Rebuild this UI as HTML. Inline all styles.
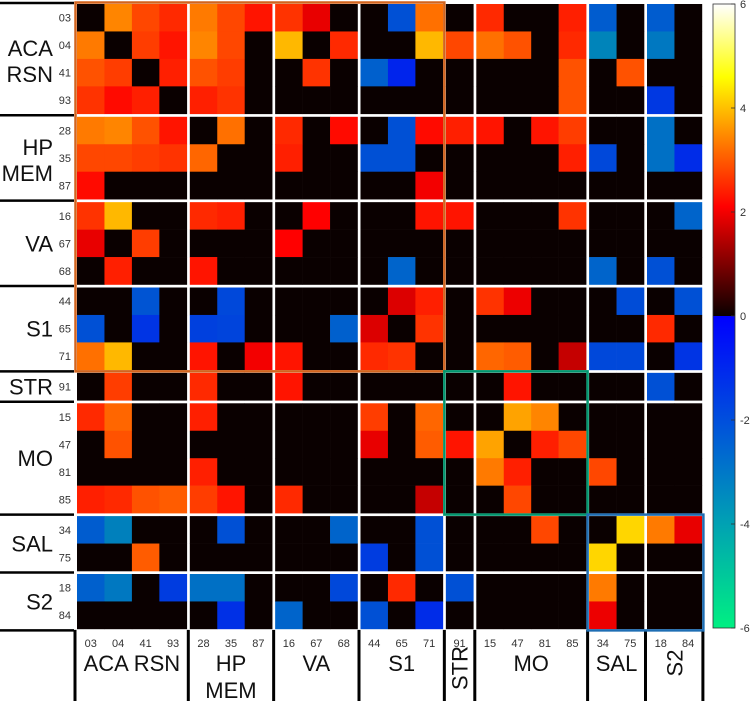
<!DOCTYPE html>
<html><head><meta charset="utf-8">
<style>
html,body{margin:0;padding:0;background:#fff;}
svg{display:block;font-family:"Liberation Sans",sans-serif;}
</style></head>
<body>
<svg id="chart" width="750" height="701" viewBox="0 0 750 701" xmlns="http://www.w3.org/2000/svg">
<defs>
<linearGradient id="cbg" x1="0" y1="0" x2="0" y2="1">
<stop offset="0" stop-color="#ffffff"/>
<stop offset="0.1167" stop-color="#ffff00"/>
<stop offset="0.2" stop-color="#ff9600"/>
<stop offset="0.325" stop-color="#ff0000"/>
<stop offset="0.4999" stop-color="#0a0000"/>
<stop offset="0.5" stop-color="#0000ff"/>
<stop offset="0.67" stop-color="#0050dc"/>
<stop offset="0.83" stop-color="#00a0b4"/>
<stop offset="1" stop-color="#00f082"/>
</linearGradient>
</defs>
<g id="cells"></g>
<g id="lines"></g>
<g id="labels"></g>
<g id="cbar"></g>
</svg>
<script>
const rowLabels = ["03","04","41","93","28","35","87","16","67","68","44","65","71","91","15","47","81","85","34","75","18","84"];
const groupNames = ["ACA RSN","HP MEM","VA","S1","STR","MO","SAL","S2"];
const groupStarts = [0,4,7,10,13,14,18,20,22];
const colorTicks = [6,4,2,0,-2,-4,-6];
const m0  = [0,3.4,2.8,2.5,3.3,2.8,2.3,2.6,1.9,0,0,-2,3.2,0,2.5,0,0,2.4,-2.3,0,-2.3,0];
const m1  = [3.3,0,2.7,2.3,3.4,2.8,0,3.9,0,2.5,0,0,3.9,2.8,3.2,2.9,0,2.5,-3.3,0,-3,0];
const m2  = [2.9,2.7,0,2.4,2.9,2.7,0,0,2.6,0,-2.4,-0.9,0,0,0,0,0,2.9,0,2.9,0,0];
const m3  = [2.6,2.2,2.4,0,2.4,2.6,0,0,0,0,0,0,0,0,0,0,0,2.9,0,0,-1.4,0];
const m4  = [3.3,3.4,2.9,2.3,0,3.2,0,2.5,0,2.2,0,-2,2.2,2.4,2.3,0,2.3,2.7,0,0,-2.8,0];
const m5  = [2.8,2.8,2.7,2.6,3.1,0,0,2.4,0,0,-2,-2,0,0,0,0,0,2.4,-1.8,0,-2.8,-1.1];
const m6  = [2.2,0,0,0,0,0,0,0,0,0,0,0,2.0,0,0,0,0,0,0,0,0,0];
const m7  = [2.6,3.9,0,0,2.5,2.4,0,0,2.1,0,0,0,2.3,2.3,0,0,0,2.6,0,0,0,-2.5];
const m8  = [1.9,0,2.7,0,0,0,0,2.1,0,0,0,0,0,0,0,0,0,0,0,0,0,0];
const m9  = [0,2.4,0,0,2.3,0,0,0,0,0,0,-2.5,0,0,0,0,0,0,-2.5,0,-2,0];
const m10 = [0,0,-2.1,0,0,-1.8,0,0,0,0,0,1.8,2.4,0,2.6,1.95,0,0,0,-1.9,0,-2];
const m11 = [-2,0,-1.3,0,-1.6,-1.7,0,0,0,-2.4,1.8,0,2.6,0,0,0,0,0,0,0,2.5,0];
const m12 = [3.2,3.9,0,0,2.3,0,2.0,2.3,0,0,2.5,2.6,0,0,3.1,3.0,0,1.6,-1.8,-1.8,0,-1.3];
const m13 = [0,2.7,0,0,2.5,0,0,2.3,0,0,0,0,0,0,0,2.3,0,0,0,0,-2,0];
const m14 = [2.5,3.1,0,0,2.4,0,0,0,0,0,2.7,0,3.1,0,0,3.7,3.4,0,0,0,0,0];
const m15 = [0,2.9,0,0,0,0,0,0,0,0,1.9,0,3.0,2.3,3.7,0,2.4,2.8,0,0,0,0];
const m16 = [0,0,0,0,2.4,0,0,0,0,0,0,0,0,0,3.3,2.4,0,0,2.8,0,0,0];
const m17 = [2.4,2.5,2.9,3.0,2.7,2.3,0,2.5,0,0,0,0,1.6,0,0,2.8,0,0,0,0,0,0];
const m18 = [-2.3,-3.2,0,0,0,-2,0,0,0,-2.5,0,0,-2,0,0,0,2.8,0,0,4.2,3.3,1.9];
const m19 = [0,0,3.0,0,0,0,0,0,0,0,-1.5,0,-2,0,0,0,0,0,4.2,0,0,0];
const m20 = [-2.4,-3,0,-1.5,-2.8,-2.8,0,0,0,-1.8,0,2.5,0,-2,0,0,0,0,3.3,0,0,0];
const m21 = [0,0,0,0,0,-1.2,0,-2.5,0,0,-2,0,-1.1,0,0,0,0,0,1.95,0,0,0];
const matrix = [m0,m1,m2,m3,m4,m5,m6,m7,m8,m9,m10,m11,m12,m13,m14,m15,m16,m17,m18,m19,m20,m21];

const NS="http://www.w3.org/2000/svg";
const X0=77, Y0=4, C=27.45, S=3, N=rowLabels.length;
function grp(i){let g=0;for(let k=1;k<groupStarts.length;k++){if(i>=groupStarts[k])g=k;}return g;}
function xPos(i){return X0+i*C+grp(i)*S;}
function yPos(i){return Y0+i*C+grp(i)*S;}
const XEND=xPos(N-1)+C, YEND=yPos(N-1)+C;
function lerp(a,b,t){return a+(b-a)*t;}
function color(v){
  let r,g,b;
  if(v>0){
    if(v<=2.1){const t=v/2.1;r=lerp(10,255,t);g=0;b=0;}
    else if(v<=4.6){const t=(v-2.1)/2.5;r=255;g=255*t;b=0;}
    else{const t=Math.min(1,(v-4.6)/1.4);r=255;g=255;b=255*t;}
  }else if(v<0){
    const t=Math.min(1,-v/6);r=0;g=240*t;b=lerp(255,130,t);
  }else{r=10;g=0;b=0;}
  return `rgb(${Math.round(r)},${Math.round(g)},${Math.round(b)})`;
}
function mk(tag,attrs,parent){const e=document.createElementNS(NS,tag);for(const k in attrs)e.setAttribute(k,attrs[k]);parent.appendChild(e);return e;}
const cells=document.getElementById('cells');
mk('rect',{x:X0,y:Y0,width:XEND-X0,height:YEND-Y0,fill:'#fff'},cells);
for(let r=0;r<N;r++){for(let c=0;c<N;c++){
  const e=mk('rect',{x:xPos(c),y:yPos(r),width:C+0.3,height:C+0.3,fill:color(matrix[r][c])},cells);
  
  
}}
const lines=document.getElementById('lines');
for(let k=0;k<groupStarts.length;k++){
  const y = k===0?Y0-1:(k===groupStarts.length-1?YEND+1.5:yPos(groupStarts[k])-1.5);
  const e=mk('line',{x1:0,x2:74,y1:y,y2:y,stroke:'#000','stroke-width':2.5},lines);
  
  
}
for(let k=0;k<groupStarts.length;k++){
  const x = k===0?75:(k===groupStarts.length-1?XEND+1:xPos(groupStarts[k])-1.5);
  const e=mk('line',{x1:x,x2:x,y1:YEND+1,y2:701,stroke:'#000','stroke-width':3},lines);
  
  
}
const boxes=[[0,13,'#d2641e'],[13,18,'#00966e'],[18,22,'#1e6eb4']];
for(const [a,b,col] of boxes){
  const x1=xPos(a)-1.5,y1=yPos(a)-1.5,x2=xPos(b-1)+C+1.5,y2=yPos(b-1)+C+1.5;
  const e=mk('rect',{x:x1,y:y1,width:x2-x1,height:y2-y1,fill:'none',stroke:col,'stroke-width':2.5},lines);
  
  
}
const labels=document.getElementById('labels');
for(let i=0;i<N;i++){
  const t=mk('text',{x:71,y:yPos(i)+C/2+4,'text-anchor':'end','font-size':11,fill:'#333'},labels);
  t.textContent=rowLabels[i];
  
  
  const u=mk('text',{x:xPos(i)+C/2,y:647,'text-anchor':'middle','font-size':11,fill:'#333'},labels);
  u.textContent=rowLabels[i];
  
  
}
for(let k=0;k<groupNames.length;k++){
  const a=groupStarts[k],b=groupStarts[k+1]-1;
  const cy=(yPos(a)+yPos(b)+C)/2, cx=(xPos(a)+xPos(b)+C)/2;
  const name=groupNames[k];
  const parts=name.split(' ');
  const lt=mk('text',{x:53,'text-anchor':'end','font-size':22,fill:'#111'},labels);
  
  
  if(parts.length===2){
    lt.setAttribute('y',cy-3);
    const s1=mk('tspan',{x:53},lt);s1.textContent=parts[0];
    const s2=mk('tspan',{x:53,dy:26},lt);s2.textContent=parts[1];
  }else{lt.setAttribute('y',cy+8);lt.textContent=name;}
  const bt=mk('text',{'text-anchor':'middle','font-size':22,fill:'#111'},labels);
  
  
  if(name==='HP MEM'){
    bt.setAttribute('x',cx);bt.setAttribute('y',671);
    const s1=mk('tspan',{x:cx},bt);s1.textContent='HP';
    const s2=mk('tspan',{x:cx,dy:27},bt);s2.textContent='MEM';
  }else if(name==='STR'||name==='S2'){
    const yy=name==='STR'?668:663;
    bt.setAttribute('x',0);bt.setAttribute('y',0);
    bt.setAttribute('transform',`translate(${cx+8},${yy}) rotate(-90)`);
    bt.textContent=name;
  }else{bt.setAttribute('x',cx);bt.setAttribute('y',671);bt.textContent=name;}
}
const cb=document.getElementById('cbar');
const CBX=713,CBW=22,CBT=4,CBB=628;
const cr=mk('rect',{x:CBX,y:CBT,width:CBW,height:CBB-CBT,fill:'url(#cbg)',stroke:'#333','stroke-width':0.8},cb);


function cbY(v){return CBT+(6-v)/12*(CBB-CBT);}
for(const v of colorTicks){
  const y=cbY(v);
  mk('line',{x1:CBX+CBW-4,x2:CBX+CBW,y1:y,y2:y,stroke:'#333','stroke-width':0.8},cb);
  const t=mk('text',{x:740,y:y+4,'font-size':11,fill:'#333'},cb);
  t.textContent=String(v);
  
  
}
</script>
</body></html>
